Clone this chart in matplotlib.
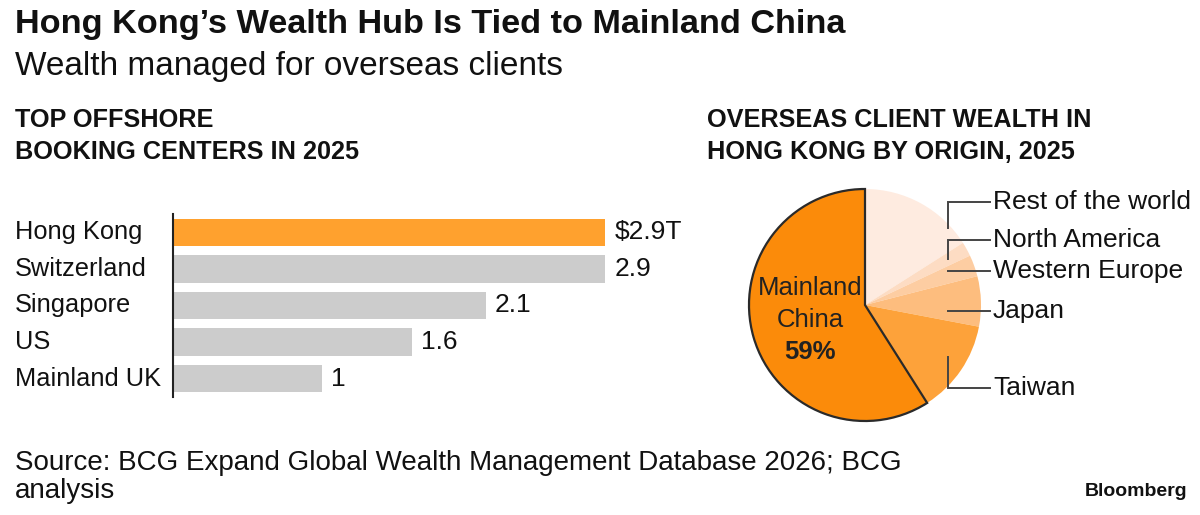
import matplotlib.pyplot as plt
import matplotlib.transforms as mtransforms

plt.rcParams['font.family'] = ['Liberation Sans', 'DejaVu Sans']

# ---- data ----------------------------------------------------------------
centers = ['Hong Kong', 'Switzerland', 'Singapore', 'US', 'Mainland UK']
booked = [2.9, 2.9, 2.1, 1.6, 1.0]
booked_labels = ['$2.9T', '2.9', '2.1', '1.6', '1']

origins = ['Rest of the world', 'North America', 'Western Europe', 'Japan',
           'Taiwan', 'Mainland China']
shares = [16, 2, 3, 7, 13, 59]

W, H = 1200, 515
fig = plt.figure(figsize=(W / 100, H / 100), dpi=100)


def fx(px):
    return px / W


def fy(py):
    return 1 - py / H


TXT = '#111111'

# ---- titles ----------------------------------------------------------------
fig.text(fx(15), fy(24), 'Hong Kong\u2019s Wealth Hub Is Tied to Mainland China',
         fontsize=24.7, fontweight='bold', color=TXT, va='center')
fig.text(fx(15), fy(66), 'Wealth managed for overseas clients',
         fontsize=24, color=TXT, va='center')

fig.text(fx(15), fy(136), 'TOP OFFSHORE\nBOOKING CENTERS IN 2025',
         fontsize=18.2, fontweight='bold', color=TXT, va='center',
         linespacing=1.38)
fig.text(fx(707), fy(136), 'OVERSEAS CLIENT WEALTH IN\nHONG KONG BY ORIGIN, 2025',
         fontsize=18.2, fontweight='bold', color=TXT, va='center',
         linespacing=1.38)

# ---- bar chart -------------------------------------------------------------
ax = fig.add_axes([fx(173), fy(397), fx(680) - fx(173), fy(214) - fy(397)])
ypos = list(range(len(centers)))
colors = ['#FFA12E'] + ['#CCCCCC'] * (len(centers) - 1)
ax.barh(ypos, booked, height=0.75, color=colors)
ax.set_xlim(0, 3.4)
ax.set_ylim(4.5, -0.5)
for s in ('top', 'right', 'bottom'):
    ax.spines[s].set_visible(False)
ax.spines['left'].set_color('#222222')
ax.spines['left'].set_linewidth(1.5)
ax.set_xticks([])
ax.set_yticks([])

lab_tr = mtransforms.blended_transform_factory(fig.transFigure, ax.transData)
for y, name, v, lbl in zip(ypos, centers, booked, booked_labels):
    ax.text(fx(15), y, name, transform=lab_tr, fontsize=18.3, color=TXT,
            va='center', ha='left')
    ax.text(v + 0.06, y, lbl, fontsize=19, color=TXT, va='center', ha='left')

# ---- pie chart -------------------------------------------------------------
cx, cy, r = 865, 305, 116
pax = fig.add_axes([fx(cx - r), fy(cy + r), fx(2 * r), fy(cy - r) - fy(cy + r)])
pie_colors = ['#FEEBE0', '#FDDCC3', '#FDCDA2', '#FDBD7E', '#FDA23A', '#FB8B0A']
wedges, _ = pax.pie(shares, colors=pie_colors, startangle=90,
                    counterclock=False, radius=1)
for w in wedges:
    w.set_clip_on(False)
wedges[-1].set_edgecolor('#2A2A2A')
wedges[-1].set_linewidth(1.6)
pax.set_xlim(-1, 1)
pax.set_ylim(-1, 1)
pax.set_aspect('equal')


def px2d(px, py):
    return (px - cx) / r, (cy - py) / r


LC = '#444444'
# leader lines: (vertical start y or None, horizontal y)
leaders = [(228, 202), (259, 240), (None, 271), (None, 311), (357, 388)]
for name, (ys, yh) in zip(origins[:-1], leaders):
    x0, yh_d = px2d(948, yh)
    x1, _ = px2d(990, yh)
    if ys is not None:
        _, ys_d = px2d(948, ys)
        pax.plot([x0, x0, x1], [ys_d, yh_d, yh_d], color=LC, lw=1.4,
                 clip_on=False, solid_joinstyle='miter')
    else:
        pax.plot([x0, x1], [yh_d, yh_d], color=LC, lw=1.4, clip_on=False)
    tx, _ = px2d(993, yh)
    pax.text(tx, yh_d, name, fontsize=19, color=TXT, va='center', ha='left',
             clip_on=False)

mx, my = px2d(810, 320)
pax.text(mx, my + 32 / r, 'Mainland', fontsize=18.5, color='#222222',
         ha='center', va='center')
pax.text(mx, my, 'China', fontsize=18.5, color='#222222',
         ha='center', va='center')
pax.text(mx, my - 32 / r, f'{shares[-1]}%', fontsize=18.5, fontweight='bold',
         color='#222222', ha='center', va='center')

# ---- footer ----------------------------------------------------------------
fig.text(fx(15), fy(477),
         'Source: BCG Expand Global Wealth Management Database 2026; BCG\nanalysis',
         fontsize=20, color=TXT, va='center', linespacing=1.15)
fig.text(fx(1187), fy(491), 'Bloomberg', fontsize=14, fontweight='bold',
         color=TXT, va='center', ha='right')

fig.savefig('out.png', dpi=100)
